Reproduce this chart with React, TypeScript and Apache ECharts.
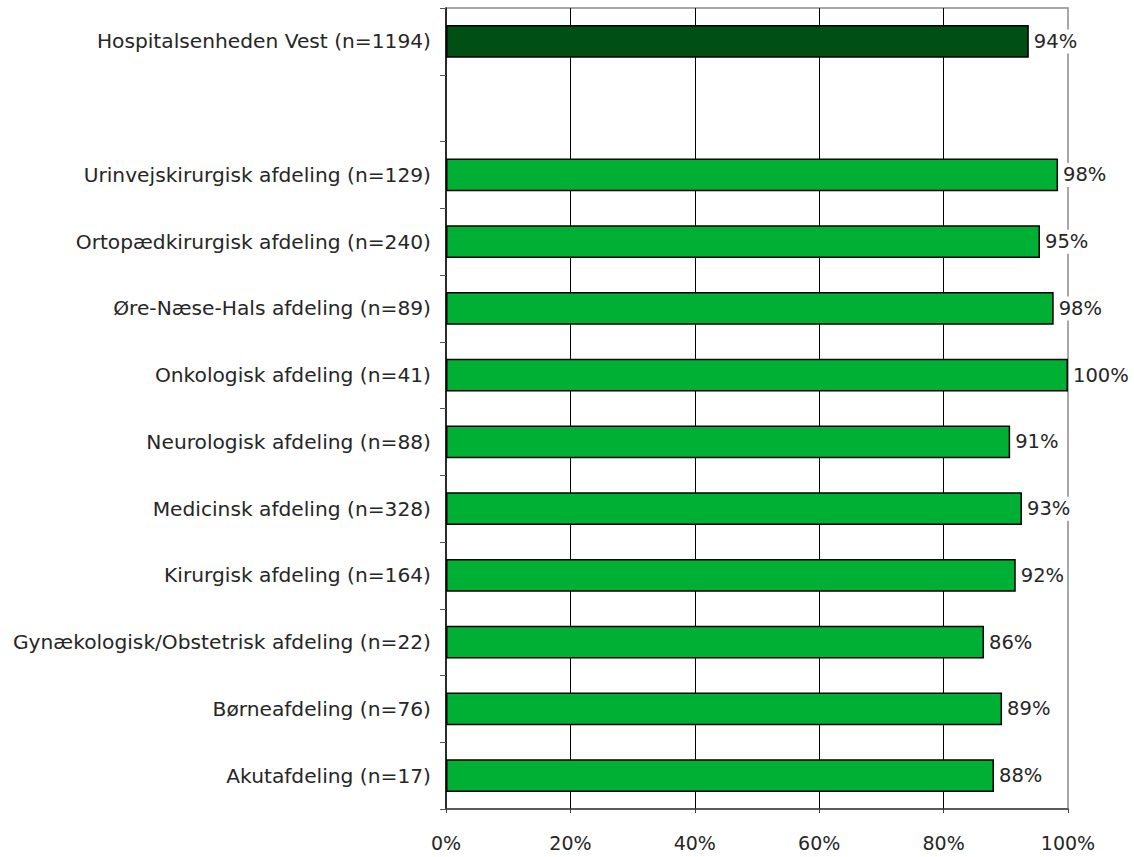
import React, { useEffect, useRef } from "react";
import * as echarts from "echarts";

const categories = [
  "Akutafdeling (n=17)",
  "Børneafdeling (n=76)",
  "Gynækologisk/Obstetrisk afdeling (n=22)",
  "Kirurgisk afdeling (n=164)",
  "Medicinsk afdeling (n=328)",
  "Neurologisk afdeling (n=88)",
  "Onkologisk afdeling (n=41)",
  "Øre-Næse-Hals afdeling (n=89)",
  "Ortopædkirurgisk afdeling (n=240)",
  "Urinvejskirurgisk afdeling (n=129)",
  "",
  "Hospitalsenheden Vest (n=1194)",
];
const values: (number | null)[] = [88, 89, 86, 92, 93, 91, 100, 98, 95, 98, null, 94];
const barValues: (number | null)[] = [88.1, 89.4, 86.5, 91.6, 92.6, 90.7, 100, 97.7, 95.5, 98.4, null, 93.7];
const highlightIndex = 11;
const xTicks = [0, 20, 40, 60, 80, 100];

const FONT = "'DejaVu Sans', sans-serif";

export default function App() {
  const ref = useRef<HTMLDivElement>(null);
  useEffect(() => {
    if (!ref.current) return;
    const chart = echarts.init(ref.current, undefined, { renderer: "svg" });
    chart.setOption({
      animation: false,
      backgroundColor: "#ffffff",
      grid: {
        left: 446,
        right: 66,
        top: 8,
        bottom: 48,
        show: true,
        borderColor: "#8c8c8c",
        borderWidth: 1.5,
        containLabel: false,
      },
      xAxis: {
        type: "value",
        min: xTicks[0],
        max: xTicks[xTicks.length - 1],
        interval: 20,
        axisLine: { show: true, lineStyle: { color: "#404040", width: 1.5 } },
        axisTick: { show: true, length: 4, lineStyle: { color: "#404040" } },
        axisLabel: {
          formatter: "{value}%",
          fontFamily: FONT,
          fontSize: 19,
          color: "#262626",
          margin: 24,
        },
        splitLine: {
          show: true,
          showMinLine: false,
          showMaxLine: false,
          lineStyle: { color: "#000000", width: 1 },
        },
      },
      yAxis: {
        type: "category",
        data: categories,
        axisLine: { show: true, lineStyle: { color: "#000000", width: 1.5 } },
        axisTick: { show: true, length: 6, lineStyle: { color: "#555555" } },
        axisLabel: {
          fontFamily: FONT,
          fontSize: 20.2,
          color: "#262626",
          margin: 15,
        },
        splitLine: { show: false },
      },
      series: [
        {
          type: "bar",
          barWidth: "49%",
          data: barValues.map((v, i) =>
            v === null
              ? "-"
              : {
                  value: v,
                  label: { formatter: values[i] + "%" },
                  itemStyle: {
                    color: i === highlightIndex ? "#004f14" : "#00b034",
                    borderColor: "#000000",
                    borderWidth: 1.5,
                  },
                }
          ),
          label: {
            show: true,
            position: "right",
            distance: 3,
            fontFamily: FONT,
            fontSize: 19.5,
            color: "#262626",
            backgroundColor: "#ffffff",
            padding: [2, 2],
          },
        },
      ],
    });
    return () => chart.dispose();
  }, []);
  return (
    <div
      ref={ref}
      style={{ position: "fixed", left: 0, top: 0, width: 1134, height: 857 }}
    />
  );
}
